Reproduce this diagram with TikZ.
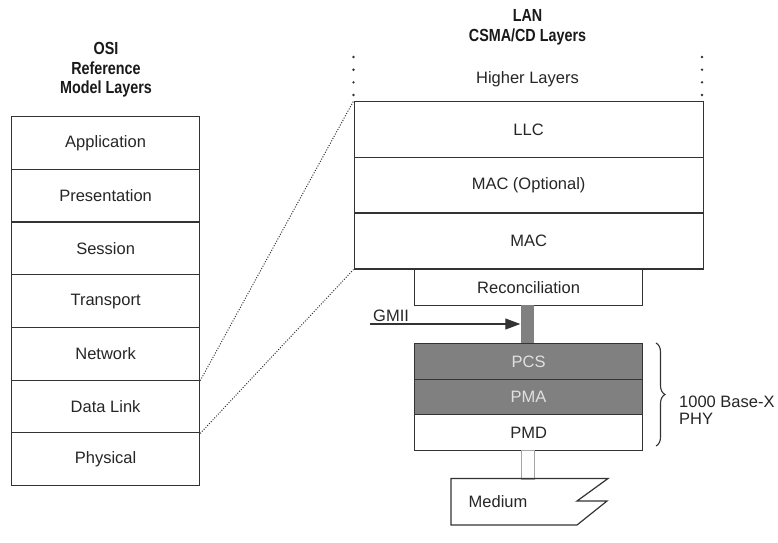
\documentclass[tikz,border=0pt]{standalone}
\usepackage{fontspec}
\setmainfont{Liberation Sans}
\newfontfamily\titlefont[FakeStretch=0.82]{Liberation Sans}
\usetikzlibrary{decorations.pathreplacing,arrows.meta}
\definecolor{ink}{HTML}{333333}
\definecolor{shade}{HTML}{808080}
\tikzset{
  layer/.style={draw=ink, line width=1.2pt, minimum width=188pt, minimum height=52.7pt,
                anchor=north west, inner sep=0pt, font=\fontsize{16.5}{18}\selectfont, text=black!85},
  lanlayer/.style={draw=ink, line width=1.2pt, minimum width=349pt, minimum height=56pt,
                anchor=north west, inner sep=0pt, font=\fontsize{16.5}{18}\selectfont, text=black!85},
  phylayer/.style={draw=ink, line width=1.2pt, minimum width=228pt, minimum height=35.5pt,
                anchor=north west, inner sep=0pt, font=\fontsize{16.5}{18}\selectfont, text=black!85},
  graylayer/.style={phylayer, fill=shade, text=white!88!black},
  heading/.style={font=\titlefont\bfseries\fontsize{17.5}{19.5}\selectfont, align=center, text=black!90},
  plain/.style={font=\fontsize{16.5}{16.5}\selectfont, text=black!85},
  dotlink/.style={draw=black!80, line width=1pt, dash pattern=on 1pt off 1.6pt},
  dotmark/.style={fill=ink, draw=none, circle, inner sep=0pt, minimum size=2.6pt}
}
\begin{document}
\begin{tikzpicture}[x=1pt,y=-1pt]
\useasboundingbox[fill=white] (0,0) rectangle (778,542);

% OSI title and layers
\node[heading] (osititle) at (106,70) {OSI\\Reference\\Model Layers};
\node[layer] (app)   at (11,116)    {Application};
\node[layer] (pres)  at (11,168.7)  {Presentation};
\node[layer] (sess)  at (11,221.4)  {Session};
\node[layer] (trans) at (11,274.1)  {Transport};
\node[layer] (net)   at (11,326.8)  {Network};
\node[layer] (dl)    at (11,379.5)  {Data Link};
\node[layer] (phys)  at (11,432.2)  {Physical};

% LAN title and layers
\node[heading] (lantitle) at (527.5,27.5) {LAN\\CSMA/CD Layers};
\node[plain] (higher) at (527.5,79) {Higher Layers};
\foreach \yy [count=\i] in {57,69.7,82.3,95} {
  \node[dotmark] (dl\i) at (353.5,\yy) {};
  \node[dotmark] (dr\i) at (702,\yy) {};
}
\node[lanlayer] (llc)    at (353.5,101) {LLC};
\node[lanlayer] (macopt) at (353.5,156.5) {MAC (Optional)};
\node[lanlayer] (mac)    at (353.5,212.3) {MAC};

\node[draw=ink, line width=1.2pt, minimum width=228pt, minimum height=37pt, anchor=north west,
      inner sep=0pt, font=\fontsize{16.5}{18}\selectfont, text=black!85] (recon) at (414,268) {Reconciliation};

% GMII bar
\node[fill=shade, draw=none, minimum width=13pt, minimum height=38pt, inner sep=0pt, anchor=north]
  (gmiibar) at (527,305) {};
\coordinate (gmiistart) at (370,324);
\draw[ink, line width=1.1pt, -{Triangle[length=15pt,width=11pt]}] (gmiistart) -- (gmiibar.west |- gmiistart);
\node[plain, anchor=south west, inner sep=0pt] (gmii) at (373,322) {GMII};

% PHY stack
\node[graylayer] (pcs) at (414,343) {PCS};
\node[graylayer] (pma) at (414,378.5) {PMA};
\node[phylayer]  (pmd) at (414,414) {PMD};

% connector to medium
\node[draw=black!35, line width=0.9pt, minimum width=13pt, minimum height=29pt, inner sep=0pt, anchor=north]
  (mlink) at (527.5,449.5) {};

% Medium
\draw[ink, line width=1.2pt, line join=miter] (451,478.5) -- (608,478.5) -- (577,501) -- (607,501) -- (577,525) -- (451,525) -- cycle;
\node[plain] (medium) at (498,502) {Medium};

% brace
\draw[ink, line width=1.1pt, decorate, decoration={brace, amplitude=9pt}] (656,343) -- (656,446);
\node[plain, align=left, anchor=west, inner sep=0pt] (phy) at (679,410) {1000 Base-X\\PHY};

% dotted zoom lines
\draw[dotlink] (net.south east) -- (llc.north west);
\draw[dotlink] (dl.south east) -- (mac.south west);
\end{tikzpicture}
\end{document}
